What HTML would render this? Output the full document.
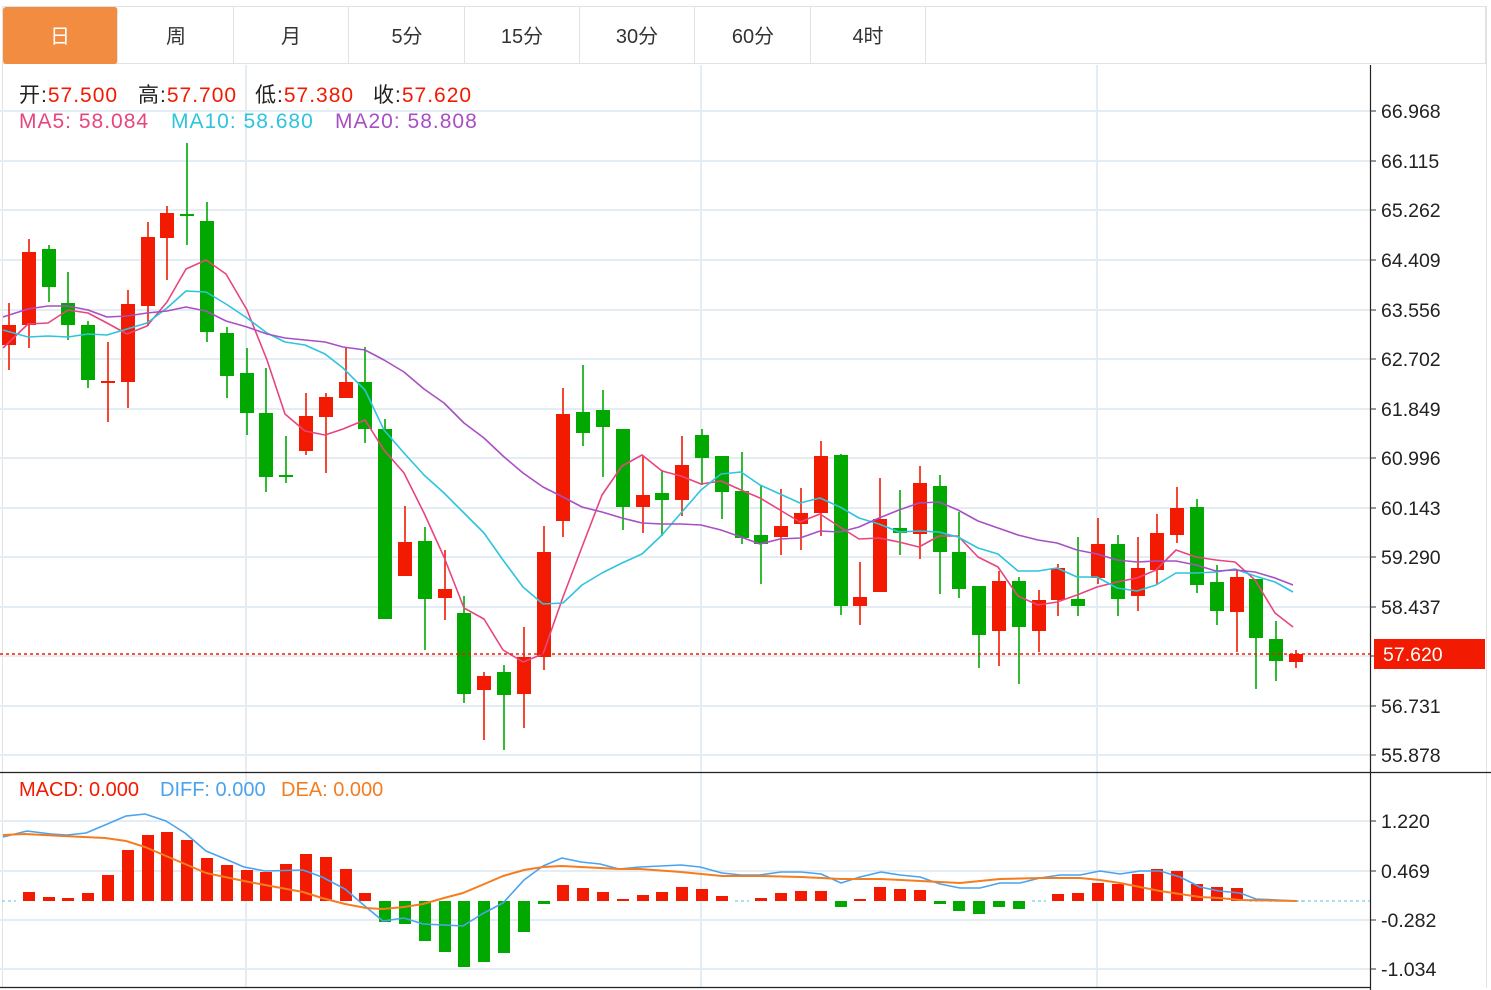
<!DOCTYPE html>
<html><head><meta charset="utf-8">
<style>
body{margin:0;background:#fff;width:1491px;height:990px;overflow:hidden;font-family:"Liberation Sans","Noto Sans CJK SC",sans-serif;}
.tabs{position:absolute;left:2px;top:6px;height:58px;width:1484px;border:1px solid #e2e2e2;border-bottom:1px solid #e2e2e2;box-sizing:border-box;}
.tab{position:absolute;top:0;height:57px;width:115px;border-right:1px solid #e2e2e2;text-align:center;line-height:60px;font-size:20px;color:#333;box-sizing:border-box;}
.tab.on{background:#f28c40;color:#fff;border-radius:3px;}
.lg{position:absolute;font-size:21px;letter-spacing:1px;white-space:pre;}
.r{color:#f21a00}
</style></head><body>
<div class="tabs">
<div class="tab on" style="left:0">日</div>
<div class="tab" style="left:116px">周</div>
<div class="tab" style="left:231px">月</div>
<div class="tab" style="left:347px">5分</div>
<div class="tab" style="left:462px">15分</div>
<div class="tab" style="left:577px">30分</div>
<div class="tab" style="left:693px">60分</div>
<div class="tab" style="left:808px">4时</div>
</div>
<svg id="s" width="1491" height="990" style="position:absolute;left:0;top:0" xmlns="http://www.w3.org/2000/svg">
<line x1="2.5" y1="64" x2="2.5" y2="988" stroke="#e2e2e2"/>
<line x1="1486.5" y1="6" x2="1486.5" y2="988" stroke="#e2e2e2"/>
<g id="grid" stroke="#e3edf3" stroke-width="2"></g>
<line x1="0" y1="772.5" x2="1491" y2="772.5" stroke="#222" stroke-width="1.2"/>
<line x1="0" y1="987.5" x2="1370" y2="987.5" stroke="#222" stroke-width="1.2"/>
<line x1="1370.5" y1="65" x2="1370.5" y2="990" stroke="#222" stroke-width="1.2"/>
<g id="ticks" stroke="#333"></g>
<g id="c"></g>
<line x1="0" y1="654" x2="1370" y2="654" stroke="#f21a00" stroke-width="1.5" stroke-dasharray="3,3"/>
<g font-size="19.5" fill="#222" font-family="Liberation Sans, sans-serif">
<text x="1381" y="118">66.968</text><text x="1381" y="168">66.115</text><text x="1381" y="217">65.262</text>
<text x="1381" y="267">64.409</text><text x="1381" y="317">63.556</text><text x="1381" y="366">62.702</text>
<text x="1381" y="416">61.849</text><text x="1381" y="465">60.996</text><text x="1381" y="515">60.143</text>
<text x="1381" y="564">59.290</text><text x="1381" y="614">58.437</text><text x="1381" y="713">56.731</text>
<text x="1381" y="762">55.878</text>
<text x="1381" y="828">1.220</text><text x="1381" y="878">0.469</text><text x="1381" y="927">-0.282</text><text x="1381" y="976">-1.034</text>
</g>
<rect x="1374" y="639" width="111" height="30" fill="#f21a00"/>
<text x="1383" y="661" font-size="19.5" fill="#fff" font-family="Liberation Sans, sans-serif">57.620</text>
</svg>
<div class="lg" style="left:19px;top:79px;color:#222">开:<span class="r">57.500</span></div>
<div class="lg" style="left:138px;top:79px;color:#222">高:<span class="r">57.700</span></div>
<div class="lg" style="left:255px;top:79px;color:#222">低:<span class="r">57.380</span></div>
<div class="lg" style="left:373px;top:79px;color:#222">收:<span class="r">57.620</span></div>
<div class="lg" style="left:19px;top:110px;color:#e8457f">MA5: 58.084</div>
<div class="lg" style="left:171px;top:110px;color:#2ec4de">MA10: 58.680</div>
<div class="lg" style="left:335px;top:110px;color:#a94fc4">MA20: 58.808</div>
<div class="lg" style="left:19px;top:779px;font-size:20px;letter-spacing:0;color:#f21a00">MACD: 0.000</div>
<div class="lg" style="left:160px;top:779px;font-size:20px;letter-spacing:0;color:#4aa3ef">DIFF: 0.000</div>
<div class="lg" style="left:281px;top:779px;font-size:20px;letter-spacing:0;color:#f57d20">DEA: 0.000</div>
<script>
var NS="http://www.w3.org/2000/svg";
function el(p,t,a){var e=document.createElementNS(NS,t);for(var k in a)e.setAttribute(k,a[k]);p.appendChild(e);return e;}
var g=document.getElementById('grid'),tk=document.getElementById('ticks'),c=document.getElementById('c');
[111,161,210,260,310,359,409,458,508,557,607,656,706,755,821,871,920,969].forEach(function(y){el(g,'line',{x1:0,y1:y,x2:1370,y2:y});el(tk,'line',{x1:1370,y1:y,x2:1376,y2:y});});
[246,701,1097].forEach(function(x){el(g,'line',{x1:x,y1:65,x2:x,y2:987});});
var R="#f21a00",G="#00a800";
var d=[
['r',325,345,303,370],['r',252,325,239,348],['g',249,287,245,302],['g',303,325,272,340],['g',325,380,321,388],['r',381,383,342,422],['r',304,382,290,408],['r',237,306,222,326],['r',213,238,206,280],['g',214,216,143,245],
['g',221,332,202,342],['g',333,376,327,398],['g',373,413,348,435],['g',413,477,368,492],['g',475,477,436,483],['r',416,451,393,455],['r',397,417,393,473],['r',382,398,347,398],['g',382,429,347,443],['g',429,619,419,619],
['r',542,576,506,576],['g',541,599,527,650],['r',589,598,550,620],['g',613,694,596,703],['r',676,690,672,740],['g',672,695,665,750],['r',657,694,627,728],['r',552,657,526,670],['r',414,521,388,537],['g',412,433,365,446],
['g',410,427,390,477],['g',429,507,429,530],['r',495,507,455,533],['g',493,500,470,536],['r',465,500,436,516],['g',435,458,429,485],['g',456,492,456,519],['g',491,538,452,544],['g',535,544,486,584],['r',526,537,489,555],
['r',513,524,488,550],['r',456,513,441,536],['g',455,606,454,615],['r',597,606,562,625],['r',519,592,478,592],['g',528,533,490,555],['r',483,534,466,559],['g',486,552,475,594],['g',552,589,512,598],['g',586,635,586,668],
['r',581,631,571,666],['g',581,627,577,684],['r',600,631,590,652],['r',568,600,564,616],['g',599,606,537,616],['r',544,578,518,584],['g',544,599,535,616],['r',568,596,537,611],['r',533,570,514,584],['r',508,535,487,543],
['g',507,585,499,593],['g',582,611,565,625],['r',577,612,570,652],['g',579,638,579,689],['g',639,661,621,681],['r',654,662,650,668]];
var m=[0,892,897,898,893,875,850,835,832,840,858,865,870,872,864,854,857,869,893,-922,-924,-941,-952,-967,-962,-953,-932,-904,885,888,892,899,895,892,887,889,896,0,898,893,891,891,-907,899,887,889,890,-904,-911,-914,-907,-909,0,894,893,883,884,874,869,871,884,887,888,0,0,0];
el(c,'line',{x1:1296,y1:901,x2:1370,y2:901,stroke:'#8fd3ea','stroke-width':1.5,'stroke-dasharray':'3,3'});
d.forEach(function(a,i){var x=Math.round(9+19.8*i),col=a[0]=='r'?R:G;
 el(c,'line',{x1:x,y1:a[3],x2:x,y2:a[4],stroke:col,'stroke-width':1.6});
 el(c,'rect',{x:x-7,y:a[1],width:14,height:Math.max(2,a[2]-a[1]),fill:col});
 var v=m[i];
 if(v>0){el(c,'rect',{x:x-6,y:v,width:12,height:901-v,fill:R});}
 else if(v<0){el(c,'rect',{x:x-6,y:901,width:12,height:-v-901,fill:G});}
 else{el(c,'line',{x1:x-7,y1:901,x2:x+7,y2:901,stroke:'#8fd3ea','stroke-width':1.5,'stroke-dasharray':'3,3'});}
});
function pl(pts,col,w){el(c,'polyline',{points:pts,fill:'none',stroke:col,'stroke-width':w||1.6,'stroke-linejoin':'round'});}
pl("3,348 28,324 48,323 68,310 88,313 107,323 127,334 147,326 167,302 186,269 206,260 226,274 247,310 267,360 285,414 305,431 325,435 343,429 365,420 384,450 404,473 424,513 444,557 464,608 484,619 503,650 523,662 543,654 563,597 582,547 602,495 622,466 642,455 662,471 681,476 701,484 721,481 741,490 760,498 780,510 800,522 820,514 840,527 859,539 879,538 899,542 919,547 939,536 958,536 978,557 998,567 1018,596 1038,605 1057,602 1077,595 1097,587 1117,582 1137,578 1156,570 1176,550 1196,557 1216,560 1235,562 1255,580 1275,613 1293,627","#e8457f");
pl("3,330 28,337 48,336 68,337 88,334 107,335 127,329 147,323 167,308 186,291 206,292 226,304 247,318 267,333 285,342 305,345 325,354 343,368 365,390 384,430 404,453 424,475 444,493 464,513 484,533 503,560 523,587 543,604 563,603 582,585 602,573 622,563 642,554 662,535 681,513 701,490 721,474 741,472 760,485 780,494 800,503 820,498 840,507 859,518 879,524 899,532 919,531 939,532 958,537 978,548 998,554 1018,571 1038,571 1057,568 1077,577 1097,577 1117,588 1137,591 1156,585 1176,573 1196,573 1216,572 1235,569 1255,576 1275,582 1293,592","#2ec4de");
pl("3,317 28,309 48,306 68,306 88,310 107,317 127,316 147,313 167,311 186,307 206,311 226,321 247,327 267,334 285,338 305,340 325,342 343,347 365,350 384,360 404,372 424,389 444,403 464,423 484,438 503,456 523,473 543,487 563,497 582,507 602,512 622,518 642,523 662,524 681,524 701,525 721,530 741,537 760,544 780,539 800,538 820,531 840,532 859,527 879,518 899,510 919,503 939,502 958,510 978,521 998,528 1018,535 1038,540 1057,543 1077,550 1097,554 1117,560 1137,562 1156,561 1176,561 1196,565 1216,571 1235,570 1255,572 1275,578 1293,585","#a94fc4");
pl("3,837 27,831 51,834 67,835 86,833 105,825 126,816 145,814 166,821 185,833 206,851 223,858 244,867 265,871 303,870 322,877 345,889 366,907 383,921 404,918 423,924 444,925 463,926 482,914 503,903 524,880 543,866 562,858 581,862 600,864 619,869 640,867 681,865 700,867 722,873 741,875 760,875 781,872 801,872 821,874 841,883 860,877 881,872 900,875 920,877 940,884 960,888 980,888 1000,883 1020,883 1040,878 1060,875 1080,875 1100,871 1120,874 1140,871 1160,871 1180,877 1200,887 1219,891 1240,893 1256,899 1297,901","#4aa3ef");
pl("3,835 25,834 63,836 105,838 126,841 145,847 166,856 185,864 206,873 244,881 265,885 303,892 322,898 345,904 366,908 383,909 404,907 423,904 444,898 463,893 482,885 503,876 524,870 543,867 562,866 581,867 600,868 619,869 640,869 681,872 722,876 760,876 801,877 841,879 881,879 920,881 960,883 1000,879 1040,878 1080,878 1100,880 1120,883 1140,887 1160,891 1180,894 1200,897 1219,898 1240,900 1297,901","#f57d20",2);
</script>
</body></html>
